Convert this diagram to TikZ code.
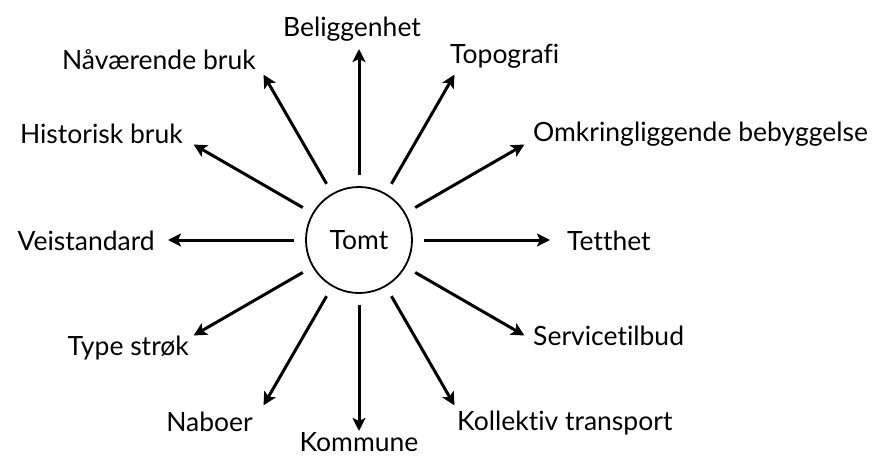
\documentclass[tikz,border=0pt]{standalone}
\usepackage{fontspec}
\setmainfont{Lato}[Ligatures=NoCommon]
\usetikzlibrary{arrows.meta}

\begin{document}
\begin{tikzpicture}[x=1pt,y=1pt,
  pil/.style={line width=3pt,-{Stealth[length=13pt,width=13pt,inset=3pt]},shorten <=11pt},
  lbl/.style={inner sep=0pt,font=\fontsize{26.5}{31}\selectfont}]

\useasboundingbox (-359,-215) rectangle (515,240);

% Centre
\node[draw, circle, line width=1.8pt, minimum size=106pt, lbl] (tomt) at (0,0) {Tomt};

% Arrow end points
\foreach \a/\n in {90/belig, 60/topo, 30/omkr, 0/tett, -30/serv, -60/koll,
                   -90/komm, -120/nabo, -150/type, 180/veis, 150/hist, 120/naav}
  \coordinate (e-\n) at (\a:191);

% Labels
\node[lbl, anchor=base] (belig) at (-7,203) {Beliggenhet};
\node[lbl, anchor=base west] (topo) at (91,176) {Topografi};
\node[lbl, anchor=base west] (omkr) at (174,98) {Omkringliggende bebyggelse};
\node[lbl, anchor=base west] (tett) at (208,-10) {Tetthet};
\node[lbl, anchor=base west] (serv) at (174,-105) {Servicetilbud};
\node[lbl, anchor=base west] (koll) at (98,-190) {Kollektiv transport};
\node[lbl, anchor=base] (komm) at (0,-211) {Kommune};
\node[lbl, anchor=base east] (nabo) at (-106,-191) {Naboer};
\node[lbl, anchor=base east] (type) at (-170,-115) {Type strøk};
\node[lbl, anchor=base east] (veis) at (-204,-10) {Veistandard};
\node[lbl, anchor=base east] (hist) at (-176,96) {Historisk bruk};
\node[lbl, anchor=base east] (naav) at (-103,170) {Nåværende bruk};

% Arrows
\foreach \n in {belig, topo, omkr, tett, serv, koll, komm, nabo, type, veis, hist, naav}
  \draw[pil] (tomt) -- (e-\n);

\end{tikzpicture}
\end{document}
